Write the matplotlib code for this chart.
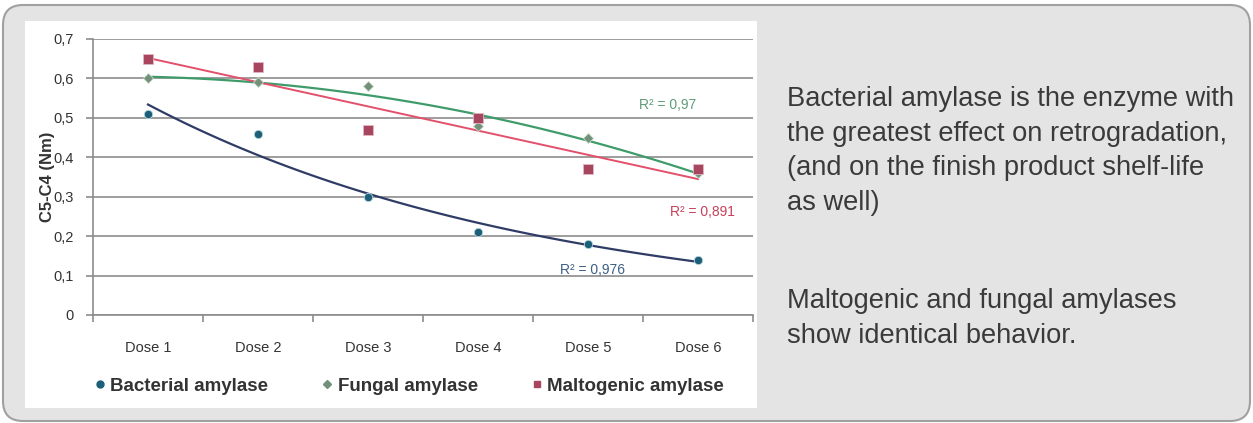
"""
Retrogradation chart: C5-C4 vs enzyme dose, with Excel-style trendlines.
"""
import matplotlib
matplotlib.use("Agg")
import matplotlib.pyplot as plt
import matplotlib.patches as mpatches
from matplotlib.transforms import IdentityTransform
from matplotlib.lines import Line2D
import numpy as np

plt.rcParams["font.family"] = ["Liberation Sans", "DejaVu Sans"]

doses = ["Dose 1", "Dose 2", "Dose 3", "Dose 4", "Dose 5", "Dose 6"]
bacterial = [0.51, 0.46, 0.30, 0.21, 0.18, 0.14]
fungal = [0.60, 0.59, 0.58, 0.48, 0.45, 0.36]
maltogenic = [0.65, 0.63, 0.47, 0.50, 0.37, 0.37]
r2_labels = ["R² = 0,976", "R² = 0,97", "R² = 0,891"]
y_ticks = [0, 0.1, 0.2, 0.3, 0.4, 0.5, 0.6, 0.7]

note_1 = ["Bacterial amylase is the enzyme with",
          "the greatest effect on retrogradation,",
          "(and on the finish product shelf-life",
          "as well)"]
note_2 = ["Maltogenic and fungal amylases",
          "show identical behavior."]

W, H = 1253, 423
fig = plt.figure(figsize=(W / 100, H / 100), dpi=100, facecolor="white")

# grey rounded frame + white chart panel (kept behind the axes)
frame = mpatches.FancyBboxPatch((3, 2), 1247, 416, boxstyle="round,pad=0,rounding_size=20",
                                facecolor="#e4e4e4", edgecolor="#a0a0a0", linewidth=1.5,
                                transform=IdentityTransform(), zorder=-3)
fig.add_artist(frame)
panel = mpatches.Rectangle((25 / W, 1 - 408 / H), 732 / W, 387 / H, transform=fig.transFigure,
                           facecolor="white", edgecolor="none", zorder=-2)
fig.add_artist(panel)

ax = fig.add_axes([93 / W, 1 - 315 / H, 660 / W, 276 / H])
ax.set_facecolor("none")

x = np.arange(1, len(doses) + 1)
xs = np.linspace(1, 6, 100)

c_bact, c_bact_fit = "#1d5f78", "#2f3c66"
c_fung, c_fung_fit = "#72907a", "#3f9c6a"
c_malt, c_malt_fit = "#a8455f", "#e2506b"

# trendlines: exponential, 2nd order polynomial, linear
b_slope, b_int = np.polyfit(x, np.log(bacterial), 1)
ax.plot(xs, np.exp(b_int + b_slope * xs), color=c_bact_fit, lw=1.6, zorder=3)
ax.plot(xs, np.polyval(np.polyfit(x, fungal, 2), xs), color=c_fung_fit, lw=1.6, zorder=3)
ax.plot(xs, np.polyval(np.polyfit(x, maltogenic, 1), xs), color=c_malt_fit, lw=1.4, zorder=3)

ax.plot(x, bacterial, "o", color=c_bact, ms=6, mec="#b8d8e0", mew=0.6, zorder=4)
ax.plot(x, fungal, "D", color=c_fung, ms=5.5, mec="#c8d8c8", mew=0.6, zorder=4)
ax.plot(x, maltogenic, "s", color=c_malt, ms=6.5, mec="#e0b8c4", mew=0.6, zorder=4)

ax.text(5.04, 0.114, r2_labels[0], color="#3c5f86", fontsize=10, ha="center", va="center")
ax.text(5.72, 0.533, r2_labels[1], color="#5e9c78", fontsize=10, ha="center", va="center")
ax.text(6.04, 0.261, r2_labels[2], color="#c8405a", fontsize=10, ha="center", va="center")

ax.set_xlim(0.5, 6.5)
ax.set_ylim(0, 0.7)
ax.set_yticks(y_ticks)
ax.set_yticklabels([f"{v:.1f}".replace(".", ",") if v else "0" for v in y_ticks])
ax.yaxis.grid(True, color="#8c8c8c", lw=1.2)
ax.set_axisbelow(True)

ax.set_xticks(np.arange(0.5, 7, 1))
ax.set_xticklabels([])
ax.set_xticks(x, minor=True)
ax.set_xticklabels(doses, minor=True)
ax.tick_params(axis="x", which="major", length=5, color="#8c8c8c", width=1.2, direction="out")
ax.tick_params(axis="x", which="minor", length=0, pad=19, labelsize=10.5, labelcolor="#333333")
ax.tick_params(axis="y", length=5, color="#8c8c8c", width=1.2, pad=9, labelsize=10.5,
               labelcolor="#333333")

for s in ["top", "right"]:
    ax.spines[s].set_visible(False)
for s in ["left", "bottom"]:
    ax.spines[s].set_color("#8c8c8c")
    ax.spines[s].set_linewidth(1.2)

ax.set_ylabel("C5-C4 (Nm)", fontsize=12, fontweight="bold", color="#333333")
ax.yaxis.set_label_coords(-0.058, 0.5)

handles = [
    Line2D([], [], ls="none", marker="o", color=c_bact, ms=5),
    Line2D([], [], ls="none", marker="D", color=c_fung, ms=4.5),
    Line2D([], [], ls="none", marker="s", color=c_malt, ms=5),
]
fig.legend(handles, ["Bacterial amylase", "Fungal amylase", "Maltogenic amylase"],
           loc="center", bbox_to_anchor=(409 / W, 1 - 386 / H), ncol=3, frameon=False,
           handlelength=0.6, handletextpad=0.25, columnspacing=2.85,
           prop={"size": 13.5, "weight": "bold"}, labelcolor="#333333")

# explanatory notes on the right
for i, line in enumerate(note_1):
    fig.text(787 / W, 1 - (106 + 34.7 * i) / H, line, fontsize=19.6, color="#3a3a3a",
             va="baseline", ha="left")
for i, line in enumerate(note_2):
    fig.text(787 / W, 1 - (308 + 34.7 * i) / H, line, fontsize=19.6, color="#3a3a3a",
             va="baseline", ha="left")

fig.savefig("out.png", dpi=100, facecolor="white")
